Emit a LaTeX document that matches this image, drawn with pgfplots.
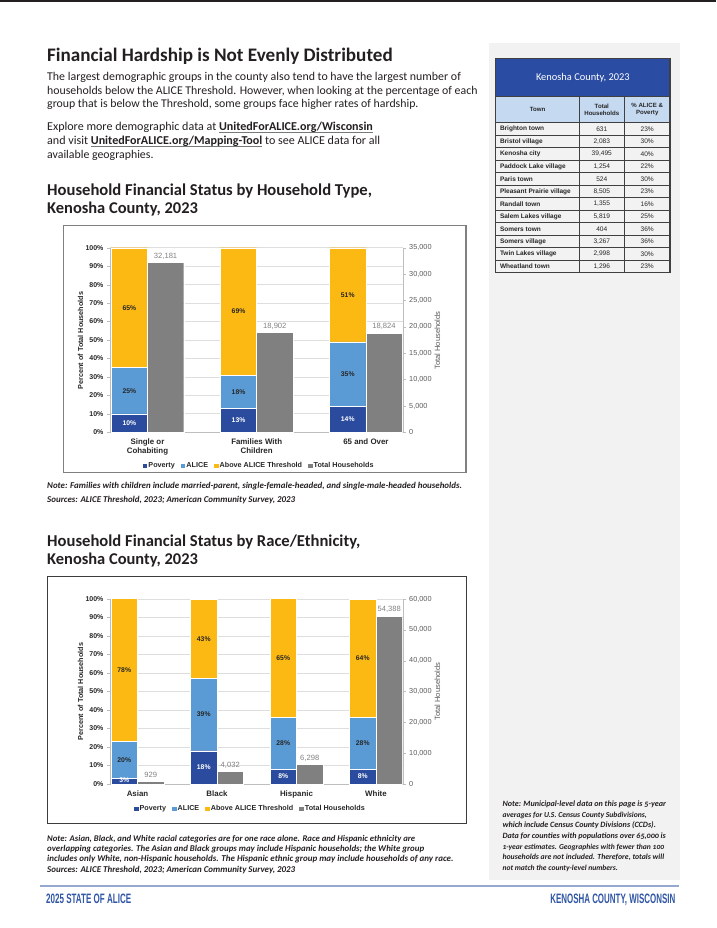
\documentclass[border=0pt]{standalone}
\usepackage{pgfplots}
\pgfplotsset{compat=1.18}
\usepackage{fontspec}
\setmainfont{Carlito}
\newfontfamily\arial{Liberation Sans}
\usepackage{graphicx}

\definecolor{povc}{RGB}{43,76,158}
\definecolor{alicec}{RGB}{91,155,213}
\definecolor{abovec}{RGB}{253,185,19}
\definecolor{totc}{RGB}{128,128,128}
\definecolor{txt}{RGB}{35,31,32}
\definecolor{lab}{RGB}{38,38,38}
\definecolor{sidebg}{RGB}{242,242,242}
\definecolor{hdrblue}{RGB}{42,76,163}
\definecolor{colhdr}{RGB}{197,217,241}
\definecolor{rowgray}{RGB}{242,242,242}
\definecolor{tblline}{RGB}{64,64,64}
\definecolor{footblue}{RGB}{47,85,165}
\definecolor{footline}{RGB}{150,168,208}
\definecolor{linkgray}{RGB}{120,120,120}
\definecolor{axgray}{RGB}{190,190,190}
\definecolor{gridgray}{RGB}{222,222,222}
\definecolor{ticgray}{RGB}{90,90,90}
\definecolor{valgray}{RGB}{128,128,128}
\definecolor{framegray}{RGB}{128,128,128}
\definecolor{framedark}{RGB}{60,60,60}

\newsavebox\lkbox
\newcommand\glink[1]{\sbox\lkbox{#1}\rlap{\textcolor{linkgray}{\rule[-0.2em]{\wd\lkbox}{0.09em}}}\usebox\lkbox}

\newsavebox\measbox
\sbox\measbox{\fontsize{16}{19}\selectfont\bfseries Household Financial Status by Household Type,}
\pgfmathsetmacro\subscale{324.7/\the\wd\measbox}

\pgfplotsset{
  ch/.style={scale only axis, anchor=south west, width=292.7pt,
    /pgf/number format/assume math mode=true},
  pctaxis/.style={ch, ymin=0, ymax=100, ybar stacked,
    axis x line*=bottom, axis y line*=left,
    axis line style={draw=axgray},
    ytick={0,10,...,100}, yticklabel={\pgfmathprintnumber{\tick}\%},
    yticklabel style={font=\arial\bfseries\fontsize{7}{8}\selectfont, text=lab},
    ymajorgrids, grid style={draw=gridgray, line width=0.7pt},
    tick align=outside, major tick length=3pt,
    ytick style={draw=axgray}, xtick style={draw=none},
    xticklabel style={font=\arial\bfseries\fontsize{7.9}{9.2}\selectfont, text=lab, align=center},
  },
  totaxis/.style={ch, ybar, axis y line*=right, axis x line=none,
    ymin=0, scaled y ticks=false, tick align=outside, major tick length=3pt,
    ytick style={draw=axgray}, axis line style={draw=axgray},
    /pgf/number format/1000 sep={,},
    yticklabel style={font=\arial\fontsize{7.3}{8}\selectfont, text=ticgray},
    nodes near coords,
    every node near coord/.append style={font=\arial\fontsize{7.6}{8}\selectfont, text=valgray},
  },
  labaxis/.style={ch, hide axis, ymin=0, ymax=100},
  legstyle/.style={legend columns=4,
    legend style={draw=none, fill=none, anchor=center,
      font=\arial\bfseries\fontsize{7.2}{8}\selectfont,
      /tikz/every even column/.append style={column sep=5pt},
      nodes={inner sep=1pt, text=lab}},
    legend image code/.code={\path[##1, draw=none] (0.5pt,-2.3pt) rectangle (5.1pt,2.3pt);}},
  darklab/.style={forget plot, draw=none, mark=none, nodes near coords, point meta=explicit symbolic,
    every node near coord/.append style={anchor=center, font=\arial\bfseries\fontsize{6.8}{8}\selectfont, text=lab}},
  whitelab/.style={forget plot, draw=none, mark=none, nodes near coords, point meta=explicit symbolic,
    every node near coord/.append style={anchor=center, font=\arial\bfseries\fontsize{6.8}{8}\selectfont, text=white}},
}

\begin{document}
\begin{tikzpicture}
\useasboundingbox (0pt,0pt) rectangle (716pt,-928pt);
\begin{scope}[x=1pt,y=-1pt]
  % page decorations
  \fill[txt] (0,0) rectangle (716,1.6);
  \fill[sidebg] (489,42.7) rectangle (680,880);
  \draw[footline, line width=2pt] (40,886) -- (679,886);
  \node[anchor=base west, inner sep=0pt, text=footblue] at (46,903.5)
    {\resizebox{85pt}{9.5pt}{\arial\bfseries 2025 STATE OF ALICE}};
  \node[anchor=base east, inner sep=0pt, text=footblue] at (675.5,903.5)
    {\resizebox{125pt}{9.5pt}{\arial\bfseries KENOSHA COUNTY, WISCONSIN}};

  % headings and body text
  \begin{scope}[every node/.style={anchor=base west, inner sep=0pt, text=txt}]
  \node at (47,61.7) {\resizebox{345.4pt}{!}{\bfseries Financial Hardship is Not Evenly Distributed}};
  \node at (47,80.7) {\resizebox{413.7pt}{!}{The largest demographic groups in the county also tend to have the largest number of}};
  \node at (47,94.3) {\resizebox{430.3pt}{!}{households below the ALICE Threshold. However, when looking at the percentage of each}};
  \node at (47,108) {\resizebox{371.3pt}{!}{group that is below the Threshold, some groups face higher rates of hardship.}};
  \node at (47,131) {\resizebox{325.7pt}{!}{Explore more demographic data at \glink{\textbf{UnitedForALICE.org/Wisconsin}}}};
  \node at (47,145) {\resizebox{333pt}{!}{and visit \glink{\textbf{UnitedForALICE.org/Mapping-Tool}} to see ALICE data for all}};
  \node at (47,159) {\resizebox{106.3pt}{!}{available geographies.}};
  \node at (47,195.3) {\resizebox{324.7pt}{!}{\bfseries Household Financial Status by Household Type,}};
  \node at (47,214) {\resizebox{150.7pt}{!}{\bfseries Kenosha County, 2023}};
  \node at (47,546.5) {\scalebox{\subscale}{\fontsize{16}{19}\selectfont\bfseries Household Financial Status by Race/Ethnicity,}};
  \node at (47,564.5) {\resizebox{150.7pt}{!}{\bfseries Kenosha County, 2023}};
  % notes
  \node at (47,488.5) {\resizebox{414.7pt}{!}{\bfseries\itshape Note: Families with children include married-parent, single-female-headed, and single-male-headed households.}};
  \node at (47,502) {\resizebox{248pt}{!}{\bfseries\itshape Sources: ALICE Threshold, 2023; American Community Survey, 2023}};
  \node at (47,841) {\resizebox{368pt}{!}{\bfseries\itshape Note: Asian, Black, and White racial categories are for one race alone. Race and Hispanic ethnicity are}};
  \node at (47,851) {\resizebox{377pt}{!}{\bfseries\itshape overlapping categories. The Asian and Black groups may include Hispanic households; the White group}};
  \node at (47,861) {\resizebox{406.3pt}{!}{\bfseries\itshape includes only White, non-Hispanic households. The Hispanic ethnic group may include households of any race.}};
  \node at (47,872) {\resizebox{248pt}{!}{\bfseries\itshape Sources: ALICE Threshold, 2023; American Community Survey, 2023}};
  % sidebar note
  \node at (502.3,806.5) {\resizebox{163.4pt}{!}{\bfseries\itshape\addfontfeatures{Numbers=OldStyle}Note: Municipal-level data on this page is 5-year}};
  \node at (502.3,817.2) {\resizebox{144.4pt}{!}{\bfseries\itshape averages for U.S. Census County Subdivisions,}};
  \node at (502.3,827.8) {\resizebox{153.4pt}{!}{\bfseries\itshape which include Census County Divisions (CCDs).}};
  \node at (502.3,838.5) {\resizebox{163.4pt}{!}{\bfseries\itshape\addfontfeatures{Numbers=OldStyle}Data for counties with populations over 65,000 is}};
  \node at (502.3,849.2) {\resizebox{161.7pt}{!}{\bfseries\itshape\addfontfeatures{Numbers=OldStyle}1-year estimates. Geographies with fewer than 100}};
  \node at (502.3,859.8) {\resizebox{161.7pt}{!}{\bfseries\itshape households are not included. Therefore, totals will}};
  \node at (502.3,870.5) {\resizebox{115.4pt}{!}{\bfseries\itshape not match the county-level numbers.}};
  \end{scope}

  % chart frames
  \draw[framegray, line width=1.5pt] (63.5,225.7) rectangle (466,472.3);
  \draw[framedark, line width=1pt] (47.3,576.7) rectangle (466,823);

  % axis titles
  \node[rotate=90, inner sep=0pt, text=lab, font=\arial\bfseries\fontsize{7.2}{8}\selectfont] at (80.5,340.5) {Percent of Total Households};
  \node[rotate=90, inner sep=0pt, text=ticgray, font=\arial\fontsize{7.6}{8}\selectfont] at (437.5,340.5) {Total Households};
  \node[rotate=90, inner sep=0pt, text=lab, font=\arial\bfseries\fontsize{7.2}{8}\selectfont] at (80.5,691.5) {Percent of Total Households};
  \node[rotate=90, inner sep=0pt, text=ticgray, font=\arial\fontsize{7.6}{8}\selectfont] at (437.5,691.5) {Total Households};

  % sidebar table
  \fill[hdrblue] (495.7,58.3) rectangle (670,96.7);
  \node[text=white, inner sep=0pt] at (582.85,77.5) {\resizebox{93.7pt}{!}{Kenosha County, 2023}};
  \fill[colhdr] (495.7,96.7) rectangle (670,122.7);
  \begin{scope}[every node/.style={inner sep=0pt, text=lab, align=center, font=\arial\bfseries\fontsize{6.1}{7.4}\selectfont}]
    \node at (537.5,109.7) {Town};
    \node at (601.8,109.7) {Total\\Households};
    \node at (647.2,109.7) {\% ALICE \&\\Poverty};
  \end{scope}
  \foreach \i/\nm/\tt/\pc in {1/Brighton town/631/23\%, 2/Bristol village/{2,083}/30\%,
     3/Kenosha city/{39,495}/40\%, 4/Paddock Lake village/{1,254}/22\%, 5/Paris town/524/30\%,
     6/Pleasant Prairie village/{8,505}/23\%, 7/Randall town/{1,355}/16\%,
     8/Salem Lakes village/{5,819}/25\%, 9/Somers town/404/36\%, 10/Somers village/{3,267}/36\%,
     11/Twin Lakes village/{2,998}/30\%, 12/Wheatland town/{1,296}/23\%}{
    \pgfmathsetmacro\yt{122.7+(\i-1)*12.5}
    \pgfmathsetmacro\ym{\yt+6.4}
    \ifodd\i\relax\else\fill[rowgray] (495.7,\yt) rectangle (670,\yt+12.5);\fi
    \node[anchor=west, inner sep=0pt, text=lab, font=\arial\bfseries\fontsize{6.5}{7}\selectfont] at (499.8,\ym) {\nm};
    \node[inner sep=0pt, text=lab, font=\arial\fontsize{6.6}{7}\selectfont] at (601.8,\ym) {\tt};
    \node[inner sep=0pt, text=lab, font=\arial\fontsize{6.6}{7}\selectfont] at (647.2,\ym) {\pc};
    \draw[tblline, line width=0.8pt] (495.7,\yt) -- (670,\yt);
  }
  \draw[tblline, line width=0.8pt] (495.7,96.7) -- (670,96.7);
  \draw[tblline, line width=0.8pt] (579.3,96.7) -- (579.3,272.7);
  \draw[tblline, line width=0.8pt] (624.3,96.7) -- (624.3,272.7);
  \draw[tblline, line width=1.1pt] (495.7,58.3) rectangle (670,272.7);
\end{scope}

%%%%%%%% CHART 1 %%%%%%%%
\begin{axis}[pctaxis, at={(110pt,-432.3pt)}, height=184.6pt,
  xmin=-0.343, xmax=2.337, bar width=0.332,
  xtick={0,1,2}, xticklabels={{Single or\\Cohabiting},{Families With\\Children},{65 and Over}}]
\addplot[fill=povc, draw=white, line width=0.4pt] coordinates {(-0.166,10) (0.834,13) (1.834,14)};
\addplot[fill=alicec, draw=white, line width=0.4pt] coordinates {(-0.166,25) (0.834,18) (1.834,35)};
\addplot[fill=abovec, draw=white, line width=0.4pt] coordinates {(-0.166,65) (0.834,69) (1.834,51)};
\end{axis}
\begin{axis}[totaxis, at={(110pt,-432.3pt)}, height=184.6pt,
  xmin=-0.343, xmax=2.337, bar width=0.332, ymax=35000, ytick={0,5000,...,35000}]
\addplot[fill=totc, draw=white, line width=0.4pt] coordinates {(0.166,32181) (1.166,18902) (2.166,18824)};
\end{axis}
\begin{axis}[labaxis, legstyle, at={(110pt,-432.3pt)}, height=184.6pt,
  xmin=-0.343, xmax=2.337, legend style={at={(0.508,-0.1826)}}]
\addplot[whitelab] coordinates {(-0.166,5)[10\%] (0.834,6.5)[13\%] (1.834,7)[14\%]};
\addplot[darklab] coordinates {(-0.166,22.5)[25\%] (0.834,22)[18\%] (1.834,31.5)[35\%]
  (-0.166,67.5)[65\%] (0.834,65.5)[69\%] (1.834,74.5)[51\%]};
\addlegendimage{fill=povc}
\addlegendimage{fill=alicec}
\addlegendimage{fill=abovec}
\addlegendimage{fill=totc}
\legend{Poverty,ALICE,Above ALICE Threshold,Total Households}
\end{axis}

%%%%%%%% CHART 2 %%%%%%%%
\begin{axis}[pctaxis, at={(110pt,-784pt)}, height=185pt,
  xmin=-0.346, xmax=3.336, bar width=0.333,
  xtick={0,1,2,3}, xticklabels={Asian,Black,Hispanic,White}]
\addplot[fill=povc, draw=white, line width=0.4pt] coordinates {(-0.1667,3) (0.8333,18) (1.8333,8) (2.8333,8)};
\addplot[fill=alicec, draw=white, line width=0.4pt] coordinates {(-0.1667,20) (0.8333,39) (1.8333,28) (2.8333,28)};
\addplot[fill=abovec, draw=white, line width=0.4pt] coordinates {(-0.1667,78) (0.8333,43) (1.8333,65) (2.8333,64)};
\end{axis}
\begin{axis}[totaxis, at={(110pt,-784pt)}, height=185pt,
  xmin=-0.346, xmax=3.336, bar width=0.333, ymax=60000, ytick={0,10000,...,60000}]
\addplot[fill=totc, draw=white, line width=0.4pt] coordinates {(0.1667,929) (1.1667,4032) (2.1667,6298) (3.1667,54388)};
\end{axis}
\begin{axis}[labaxis, legstyle, at={(110pt,-784pt)}, height=185pt,
  xmin=-0.346, xmax=3.336, legend style={at={(0.478,-0.135)}}]
\addplot[whitelab] coordinates {(-0.1667,2)[3\%] (0.8333,9)[18\%] (1.8333,4)[8\%] (2.8333,4)[8\%]};
\addplot[darklab] coordinates {(-0.1667,13)[20\%] (0.8333,37.5)[39\%] (1.8333,22)[28\%] (2.8333,22)[28\%]
  (-0.1667,61.5)[78\%] (0.8333,78.5)[43\%] (1.8333,68)[65\%] (2.8333,68)[64\%]};
\addlegendimage{fill=povc}
\addlegendimage{fill=alicec}
\addlegendimage{fill=abovec}
\addlegendimage{fill=totc}
\legend{Poverty,ALICE,Above ALICE Threshold,Total Households}
\end{axis}
\end{tikzpicture}
\end{document}
